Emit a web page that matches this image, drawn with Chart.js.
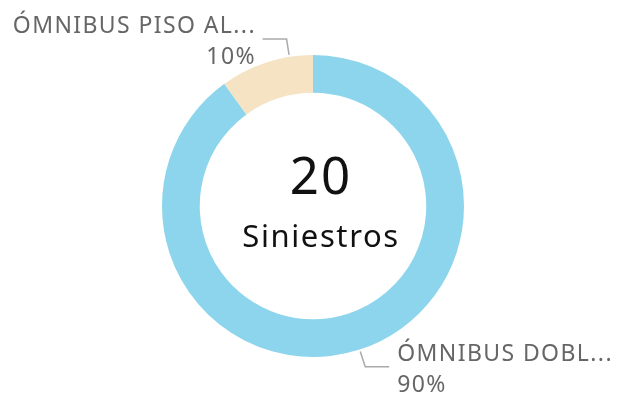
<!DOCTYPE html>
<html>
<head>
<meta charset="utf-8">
<script src="https://cdn.jsdelivr.net/npm/chart.js@4/dist/chart.umd.min.js"></script>
<style>
  html, body { margin: 0; padding: 0; background: #ffffff; }
  #wrap { width: 617px; height: 394px; position: relative; }
</style>
</head>
<body>
<div id="wrap"><canvas id="c"></canvas></div>
<script>
// Vehicle types involved in incidents
const categories = ['ÓMNIBUS DOBL...', 'ÓMNIBUS PISO AL...'];
const shares = [90, 10];
const sliceColors = ['#8dd5ec', '#f5e3c3'];
const totalCount = '20';
const totalLabel = 'Siniestros';

const FONT = '"Noto Sans", "DejaVu Sans", sans-serif';

// Outside labels with elbow leader lines
const calloutPlugin = {
  id: 'callouts',
  afterDatasetsDraw(chart) {
    const ctx = chart.ctx;
    const meta = chart.getDatasetMeta(0);
    // per slice: where along the arc the leader starts, and which side the text sits on
    const setup = [
      { frac: 0.5, side: 1 },
      { frac: 0.75, side: -1 }
    ];
    const spacing = 1.4;
    ctx.save();
    meta.data.forEach((arc, i) => {
      const p = arc.getProps(['x', 'y', 'startAngle', 'endAngle', 'outerRadius'], true);
      const a = p.startAngle + setup[i].frac * (p.endAngle - p.startAngle);
      const r0 = p.outerRadius + 2;
      const r1 = p.outerRadius + 18;
      const x0 = p.x + Math.cos(a) * r0, y0 = p.y + Math.sin(a) * r0;
      const x1 = p.x + Math.cos(a) * r1, y1 = p.y + Math.sin(a) * r1;
      const side = setup[i].side;
      const x2 = x1 + side * 24;
      ctx.strokeStyle = '#aaaaaa';
      ctx.lineWidth = 1.5;
      ctx.beginPath();
      ctx.moveTo(x0, y0);
      ctx.lineTo(x1, y1);
      ctx.lineTo(x2, y1);
      ctx.stroke();

      // right-aligned text carries trailing letter spacing; push it back out
      const tx = x2 + side * 8 + (side < 0 ? spacing : 0);
      ctx.fillStyle = '#666666';
      ctx.font = '23px ' + FONT;
      ctx.letterSpacing = spacing + 'px';
      ctx.textAlign = side > 0 ? 'left' : 'right';
      ctx.textBaseline = 'alphabetic';
      ctx.fillText(chart.data.labels[i], tx, y1 - 6);
      ctx.fillText(chart.data.datasets[0].data[i] + '%', tx, y1 + 25);
    });
    ctx.restore();
  }
};

// Total in the middle of the ring
const centerPlugin = {
  id: 'centerText',
  afterDraw(chart) {
    const meta = chart.getDatasetMeta(0);
    const arc = meta.data[0];
    const cx = arc.x + 8, cy = arc.y;
    const ctx = chart.ctx;
    ctx.save();
    ctx.fillStyle = '#111111';
    ctx.textAlign = 'center';
    ctx.textBaseline = 'alphabetic';
    ctx.font = '51px ' + FONT;
    ctx.letterSpacing = '2px';
    ctx.fillText(totalCount, cx, cy - 12);
    ctx.font = '31px ' + FONT;
    ctx.letterSpacing = '1.6px';
    ctx.fillText(totalLabel, cx, cy + 41);
    ctx.restore();
  }
};

new Chart(document.getElementById('c'), {
  type: 'doughnut',
  data: {
    labels: categories,
    datasets: [{
      data: shares,
      backgroundColor: sliceColors,
      borderWidth: 0,
      radius: 151
    }]
  },
  options: {
    responsive: true,
    maintainAspectRatio: false,
    animation: false,
    cutout: '75%',
    layout: { padding: { left: 9, top: 18, right: 0, bottom: 0 } },
    plugins: {
      legend: { display: false },
      tooltip: { enabled: false }
    }
  },
  plugins: [calloutPlugin, centerPlugin]
});
</script>
</body>
</html>
